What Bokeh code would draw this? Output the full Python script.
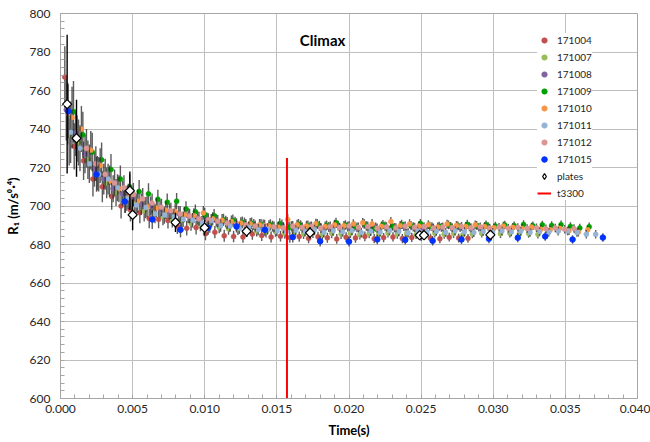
from bokeh.plotting import figure
from bokeh.models import (ColumnDataSource, SingleIntervalTicker, NumeralTickFormatter,
                          Legend, LegendItem, Label)
from bokeh.transform import dodge
from bokeh.embed import file_html
from bokeh.resources import INLINE

# ---------------- data ----------------
T = [0.0006, 0.00125, 0.0019, 0.00255, 0.0032, 0.00385, 0.0045, 0.00515, 0.0058, 0.00645,
     0.0071, 0.00775, 0.0084, 0.00905, 0.0097, 0.01035, 0.011, 0.01165, 0.0123, 0.01295,
     0.0136, 0.01425, 0.0149, 0.01555, 0.0162, 0.01685, 0.0175, 0.01815, 0.0188, 0.01945,
     0.0201, 0.02075, 0.0214, 0.02205, 0.0227, 0.02335, 0.024, 0.02465, 0.0253, 0.02595,
     0.0266, 0.02725, 0.0279, 0.02855, 0.0292, 0.02985, 0.0305, 0.03115, 0.0318, 0.03245,
     0.0331, 0.03375, 0.0344, 0.03505, 0.0357, 0.03635, 0.037]

ERR = [16, 12, 10, 9, 8, 7, 6.5, 6, 5.5, 5, 4.5, 4.2, 4, 3.8, 3.6, 3.4, 3.2, 3.1, 3, 3,
       2.9, 2.9, 2.8, 2.8, 2.7, 2.7, 2.6, 2.6, 2.6, 2.5, 2.5, 2.5, 2.5, 2.4, 2.4, 2.4, 2.4,
       2.4, 2.3, 2.3, 2.3, 2.3, 2.3, 2.3, 2.2, 2.2, 2.2, 2.2, 2.2, 2.2, 2.2, 2.2, 2.2, 2.2,
       2.2, 2.2, 2.2]

R171004 = [767, 731, 723.5, 714, 710, 705, 700, 698, 696.5, 693.5, 693, 692.5, 689.5, 688.5,
           688.8, 685.6, 686.4, 684.5, 684.2, 683.9, 685.4, 684.7, 683.9, 684.3, 683.6, 684.1,
           683.2, 684.0, 683.5, 682.9, 683.8, 683.4, 684.2, 683.0, 683.6, 683.9, 683.1, 683.7,
           684.1, 683.3, 683.0, 683.8, 683.4, 683.2]

R171007 = [737, 733, 724, 717, 712, 707, 703, 701, 697.5, 696.5, 694.5, 693, 692.5, 691,
           690.5, 689.5, 689, 688.2, 688, 687.2, 687, 686.5, 686.8, 685.8, 686.2, 685.5, 686,
           685.2, 685.8, 685.4, 685.9, 685.1, 685.7, 685.3, 686, 685.4, 685.8, 685.2, 685.6,
           685.9, 685.3, 685.7, 685.1, 685.5, 685.8, 685.2, 685.6, 685.9, 685.4, 685.7, 685.3]

R171008 = [750, 738, 727, 719, 714, 709, 706.5, 703.5, 701, 700, 698.5, 697, 696, 695, 693.8,
           693.2, 692.5, 691.9, 691.4, 691, 690.4, 690.1, 689.6, 690.2, 689.4, 689.9, 689.2,
           689.7, 689.1, 689.8, 689.3, 688.9, 689.6, 689.0, 689.5, 688.8, 689.4, 689.1, 688.7,
           689.3, 688.9, 689.4, 688.8, 689.2, 688.9, 689.3]

R171009 = [749, 737, 728, 724, 719, 714, 710, 707.5, 706.3, 703.5, 702, 702.5, 698.5, 697,
           695.5, 695, 692.8, 692.5, 691.5, 691, 690.4, 690.2, 690.8, 689, 690.5, 689.8, 690.6,
           689.9, 691.3, 690.1, 689.4, 690.7, 688.2, 690.3, 689.6, 690.4, 689.8, 690.9, 689.5,
           689.5, 690.2, 689.7, 690.5, 689.9, 690.3, 689.6, 690.1, 689.8, 690.4, 689.7, 690.2,
           689.9, 690.3, 689.4, 688.6, 689.2]

R171010 = [746, 740, 729, 721, 713, 709, 705, 702.5, 699.6, 699, 697.8, 697.1, 695.5, 695,
           696.4, 693.4, 692.6, 692, 691.2, 690.8, 690.3, 689.7, 689, 693, 690.2, 689.6, 690.8,
           689.4, 690.2, 689.7, 690.6, 691.3, 690.7, 689.5, 691.9, 689.8, 690.7, 689.6, 690.3,
           689.1, 690.6, 689.9, 689.4, 690.2, 689.3, 688.7, 689.6, 688.9, 688.3, 689.1, 687.9,
           687.6, 688.4, 687.2, 686.4, 687.6]

R171011 = [738.3, 730, 721.9, 716.5, 714, 709.5, 704, 700.5, 699.2, 696, 695.3, 694.4, 693.1,
           692.6, 691.2, 692.5, 689.8, 689.6, 688.4, 688.9, 687.7, 688.1, 687.2, 686.5, 687.4,
           686.8, 687.6, 686.3, 687.1, 686.6, 687.3, 686.2, 686.9, 686.4, 687.2, 686.7, 686.1,
           687.0, 686.5, 686.9, 686.3, 687.1, 686.6, 686.2, 686.8, 686.4, 687.0, 686.5, 686.9,
           686.2, 686.7, 686.4, 686.9, 687.0, 686.2, 685.3, 685.3]

R171012 = [748, 735, 730, 722, 716.5, 712, 709.5, 706, 703.8, 701.5, 699.3, 697.5, 695.9,
           694.8, 693.4, 692.8, 692.1, 691.2, 690.7, 690.2, 689.6, 689.9, 689.2, 688.7, 689.5,
           688.9, 689.4, 688.6, 689.3, 688.8, 689.6, 688.9, 689.4, 688.5, 689.2, 688.7, 689.5,
           688.9, 689.3, 688.6, 689.1, 688.8, 689.4, 688.7, 689.2, 688.6, 689.0, 688.4, 688.9,
           688.3, 688.7, 688.2, 688.6, 687.9, 688.3]

T171015 = [0.00053, 0.0025, 0.00446, 0.00636, 0.00832, 0.01024, 0.0122, 0.01417, 0.0161,
           0.018, 0.02, 0.02196, 0.0239, 0.0258, 0.0278, 0.0297, 0.0317, 0.0336, 0.0355, 0.0376]
R171015 = [749.2, 716.4, 702.3, 693.0, 687.6, 688.7, 689.4, 687.6, 683.8, 681.7, 681.5, 682.6,
           682.4, 681.9, 682.6, 683.0, 683.5, 684.2, 682.6, 683.6]
E171015 = [14, 9, 6, 5, 4, 3.6, 3.2, 3, 2.8, 2.7, 2.6, 2.5, 2.4, 2.4, 2.3, 2.3, 2.3, 2.2, 2.2, 2.2]

T_PLATES = [0.00046, 0.00111, 0.00481, 0.005, 0.00797, 0.00999, 0.0129, 0.0173, 0.0249,
            0.0252, 0.0298]
R_PLATES = [752.9, 735.2, 707.9, 695.4, 691.5, 688.7, 686.9, 686.1, 684.8, 684.8, 685.0]
E_PLATES = [36, 20, 10, 8, 5, 4, 3, 3, 2.5, 2.5, 2.5]

T3300_TIME = 0.0157
T3300_TOP = 725

NAMES = ["171004", "171007", "171008", "171009", "171010", "171011", "171012"]
VALUES = [R171004, R171007, R171008, R171009, R171010, R171011, R171012]
OFFSETS = [-0.0003, 0.0, -0.0002, 0.0003, 0.0002, 0.0001, -0.0001]
COLORS = ["#C0504D", "#9BBB59", "#8064A2", "#00A000", "#F79646", "#95B3D7", "#D99694"]
BLUE = "#0033FF"

FONT = "Lato"

# ---------------- figure ----------------
p = figure(width=650, height=442, x_range=(0, 0.04), y_range=(600, 800),
           output_backend="svg", toolbar_location=None,
           min_border_left=60, min_border_right=13, min_border_top=13, min_border_bottom=44)
p.background_fill_color = "white"
p.border_fill_color = "white"
p.outline_line_color = "#A6A6A6"

p.xaxis.ticker = SingleIntervalTicker(interval=0.005, num_minor_ticks=5)
p.yaxis.ticker = SingleIntervalTicker(interval=20, num_minor_ticks=5)
p.xaxis.formatter = NumeralTickFormatter(format="0.000")
p.yaxis.formatter = NumeralTickFormatter(format="0")
for ax in (p.xaxis, p.yaxis):
    ax.axis_line_color = "#A6A6A6"
    ax.major_tick_in = 0
    ax.major_tick_out = 0
    ax.minor_tick_in = 4
    ax.minor_tick_out = 0
    ax.minor_tick_line_color = "#A6A6A6"
    ax.major_label_text_font = FONT
    ax.major_label_text_font_size = "12px"
    ax.major_label_text_color = "#262626"
    ax.axis_label_text_font = FONT
    ax.axis_label_text_font_size = "13px"
    ax.axis_label_text_font_style = "bold"
    ax.axis_label_text_color = "#000000"
p.xaxis.axis_label = "Time(s)"
p.yaxis.axis_label = "R\u2081 (m/s\u2070\u00b7\u2074)"
p.xaxis.major_label_standoff = 6
p.xaxis.axis_label_standoff = 6
p.yaxis.major_label_standoff = 10
p.yaxis.axis_label_standoff = 6

p.xgrid.grid_line_color = "#BFBFBF"
p.ygrid.grid_line_color = "#BFBFBF"

items = []
for name, vals, off, col in zip(NAMES, VALUES, OFFSETS, COLORS):
    n = len(vals)
    err = ERR[:n]
    src = ColumnDataSource(dict(t=T[:n], v=vals,
                                lo=[v - e for v, e in zip(vals, err)],
                                hi=[v + e for v, e in zip(vals, err)]))
    p.segment(x0=dodge("t", off), x1=dodge("t", off), y0="lo", y1="hi", source=src,
              line_color="#262626", line_width=1.4, line_alpha=0.75)
    r = p.scatter(x=dodge("t", off), y="v", source=src, size=5, fill_color=col,
                  line_color=col, line_width=0.5)
    items.append(LegendItem(label=name, renderers=[r]))

srcb = ColumnDataSource(dict(t=T171015, v=R171015,
                             lo=[v - e for v, e in zip(R171015, E171015)],
                             hi=[v + e for v, e in zip(R171015, E171015)]))
p.segment(x0="t", x1="t", y0="lo", y1="hi", source=srcb, line_color="#262626",
          line_width=1.4, line_alpha=0.75)
rb = p.scatter(x="t", y="v", source=srcb, size=5.5, fill_color=BLUE, line_color=BLUE)
items.append(LegendItem(label="171015", renderers=[rb]))

srcp = ColumnDataSource(dict(t=T_PLATES, v=R_PLATES,
                             lo=[v - e for v, e in zip(R_PLATES, E_PLATES)],
                             hi=[v + e for v, e in zip(R_PLATES, E_PLATES)]))
p.segment(x0="t", x1="t", y0="lo", y1="hi", source=srcp, line_color="#000000",
          line_width=1.4)
p.scatter(x="t", y="v", source=srcp, marker="square", angle=0.7854, size=6.5,
          fill_color="white", line_color="black", line_width=1.2)
# legend-only glyph for the plates entry (a single NaN point, draws nothing in the plot)
rp_leg = p.scatter(x=[float("nan")], y=[float("nan")], marker="diamond", size=10,
                   fill_color="white", line_color="black", line_width=1.2)
items.append(LegendItem(label="plates", renderers=[rp_leg]))

rl = p.line(x=[T3300_TIME, T3300_TIME], y=[600, T3300_TOP], line_color="#FF0000",
            line_width=2)
items.append(LegendItem(label="t3300", renderers=[rl]))

legend = Legend(items=items, location=(477, 198))
legend.label_text_font = FONT
legend.label_text_font_size = "10px"
legend.label_text_color = "#262626"
legend.label_height = 14
legend.glyph_height = 14
legend.glyph_width = 14
legend.spacing = 3
legend.padding = 5
legend.margin = 0
legend.label_standoff = 6
legend.border_line_color = None
legend.background_fill_color = "white"
legend.background_fill_alpha = 1.0
p.add_layout(legend)

title = Label(x=0.01817, y=786, text="Climax", text_font=FONT, text_font_size="15px",
              text_font_style="bold", text_align="center", text_baseline="middle",
              text_color="#000000")
p.add_layout(title)

open("out.html", "w").write(file_html(p, INLINE))
